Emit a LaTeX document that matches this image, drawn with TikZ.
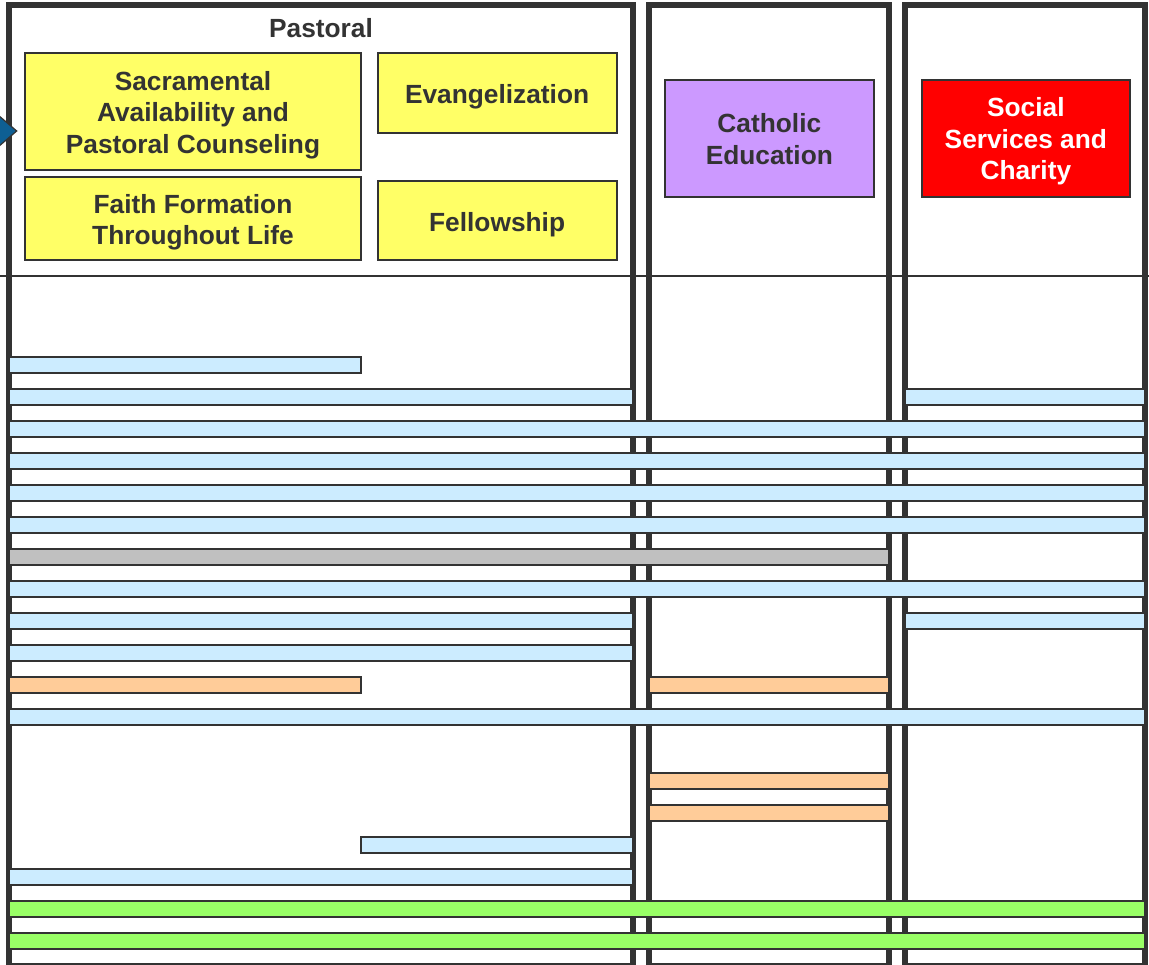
\documentclass[tikz,border=0pt]{standalone}
\usepackage{fontspec}
\setmainfont{Liberation Sans}
\definecolor{ink}{HTML}{333333}
\definecolor{pastoralyellow}{HTML}{FFFF66}
\definecolor{eduviolet}{HTML}{CC99FF}
\definecolor{charityred}{HTML}{FF0000}
\definecolor{barblue}{HTML}{CCECFF}
\definecolor{bargray}{HTML}{C0C0C0}
\definecolor{barorange}{HTML}{FFCC99}
\definecolor{bargreen}{HTML}{99FF66}
\definecolor{pointerblue}{HTML}{0E5F94}
\begin{document}
\begin{tikzpicture}[x=1pt,y=-1pt,
  column/.style={draw=ink,line width=6pt},
  divider/.style={draw=ink,line width=2pt},
  area/.style={draw=ink,line width=2pt,inner sep=0pt},
  caption/.style={text=ink,inner sep=0pt,align=center,
    font=\fontsize{26.3}{31.7}\selectfont\bfseries},
  band/.style={draw=ink,line width=2pt}]
\useasboundingbox (0,0) rectangle (1149,965);

% ministry columns
\draw[column] (9,5) rectangle (633,966);
\draw[column] (649,5) rectangle (889,966);
\draw[column] (905,5) rectangle (1145,966);

% divider between heading area and program rows
\draw[divider] (0,276.3) -- (1149,276.3);

% heading of the first column
\node[caption,anchor=north] (pastoral) at (321,18.2) {Pastoral};

% ministry areas
\node[area,fill=pastoralyellow,minimum width=335.4pt,minimum height=116.4pt] (sacr) at (193,111.5) {};
\node[area,fill=pastoralyellow,minimum width=335.4pt,minimum height=83.3pt] (faith) at (193,218.35) {};
\node[area,fill=pastoralyellow,minimum width=238.8pt,minimum height=79.4pt] (evan) at (497.1,93) {};
\node[area,fill=pastoralyellow,minimum width=238.8pt,minimum height=79pt] (fell) at (497.1,220.5) {};
\node[area,fill=eduviolet,minimum width=208.7pt,minimum height=117pt] (cath) at (769.35,138.5) {};
\node[area,fill=charityred,minimum width=208.3pt,minimum height=117pt] (social) at (1025.85,138.5) {};

\node[caption,anchor=north] (sacr-t) at (193,71) {Sacramental\\Availability and\\Pastoral Counseling};
\node[caption,anchor=north] (faith-t) at (193,194) {Faith Formation\\Throughout Life};
\node[caption,anchor=north] (evan-t) at (497.1,84.2) {Evangelization};
\node[caption,anchor=north] (fell-t) at (497.1,212.2) {Fellowship};
\node[caption,anchor=north] (cath-t) at (769.35,113.2) {Catholic\\Education};
\node[caption,anchor=north,text=white] (social-t) at (1025.85,97.2) {Social\\Services and\\Charity};

% program bars: row / left / right / colour
\foreach \k/\a/\b/\c in {
  0/9/361/barblue,
  1/9/633/barblue, 1/905/1145/barblue,
  2/9/1145/barblue, 3/9/1145/barblue, 4/9/1145/barblue, 5/9/1145/barblue,
  6/9/889/bargray,
  7/9/1145/barblue,
  8/9/633/barblue, 8/905/1145/barblue,
  9/9/633/barblue,
  10/9/361/barorange, 10/649/889/barorange,
  11/9/1145/barblue,
  13/649/889/barorange,
  14/649/889/barorange,
  15/361/633/barblue,
  16/9/633/barblue,
  17/9/1145/bargreen,
  18/9/1145/bargreen}
  \draw[band,fill=\c] (\a,{365+32*\k-8}) rectangle (\b,{365+32*\k+8});

% pointer entering from the left edge
\fill[pointerblue] (-2,115) -- (16.7,131) -- (-2,147) -- cycle;
\draw[ink,line width=1.2pt] (-2,115) -- (16.7,131) -- (-2,147);
\end{tikzpicture}
\end{document}
